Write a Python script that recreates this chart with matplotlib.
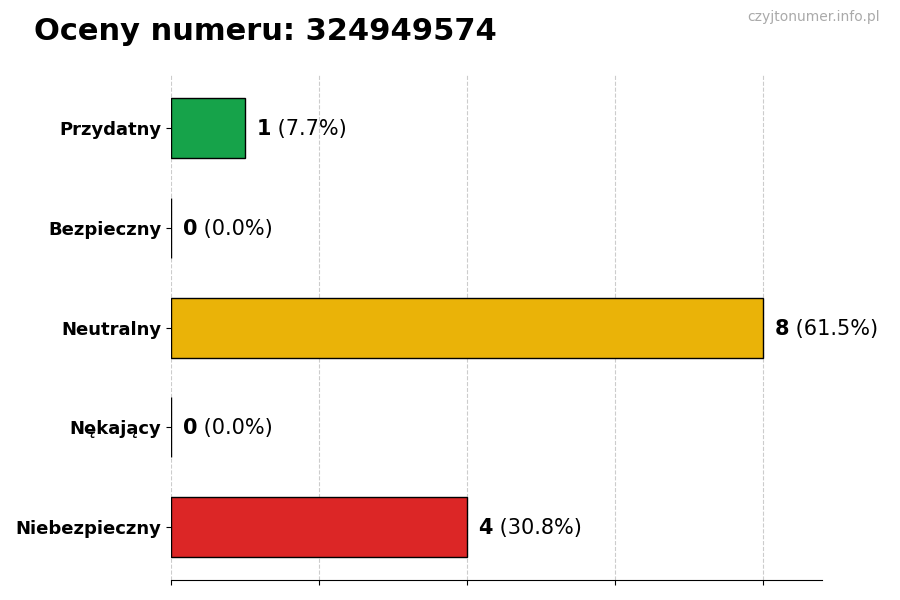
import matplotlib
matplotlib.use("Agg")
import matplotlib.pyplot as plt

categories = ["Przydatny", "Bezpieczny", "Neutralny", "Nękający", "Niebezpieczny"]
counts = [1, 0, 8, 0, 4]
colors = ["#16a34a", "#9ca3af", "#eab308", "#f97316", "#dc2626"]
number = "324949574"

total = sum(counts)
pos = list(range(len(categories)))

fig = plt.figure(figsize=(9, 6), dpi=100)
ax = fig.add_axes([0.19, 0.033, 0.723, 0.842])

ax.barh(pos, counts, height=0.6, color=colors, edgecolor="black", linewidth=1, zorder=3)
ax.invert_yaxis()
ax.set_yticks(pos)
ax.set_yticklabels(categories, fontsize=13, fontweight="bold")
ax.set_xlim(0, 8.8)
ax.set_xticks([0, 2, 4, 6, 8])
ax.set_xticklabels([])
ax.grid(axis="x", linestyle="--", color="#cccccc", linewidth=0.8, zorder=0)

for s in ["top", "right", "left"]:
    ax.spines[s].set_visible(False)

for p, c in zip(pos, counts):
    pct = c / total * 100
    t = ax.annotate(f"{c}", xy=(c, p), xytext=(8.5, -0.7), textcoords="offset points",
                    va="center", ha="left", fontsize=15, fontweight="bold")
    ax.annotate(f" ({pct:.1f}%)", xy=(1, 0.5), xycoords=t, va="center", ha="left", fontsize=15)

fig.text(0.038, 0.948, f"Oceny numeru: {number}", fontsize=22, fontweight="bold", va="center")
fig.text(0.978, 0.971, "czyjtonumer.info.pl", fontsize=10, color="#aaaaaa", ha="right", va="center")

fig.savefig("out.png", dpi=100)
